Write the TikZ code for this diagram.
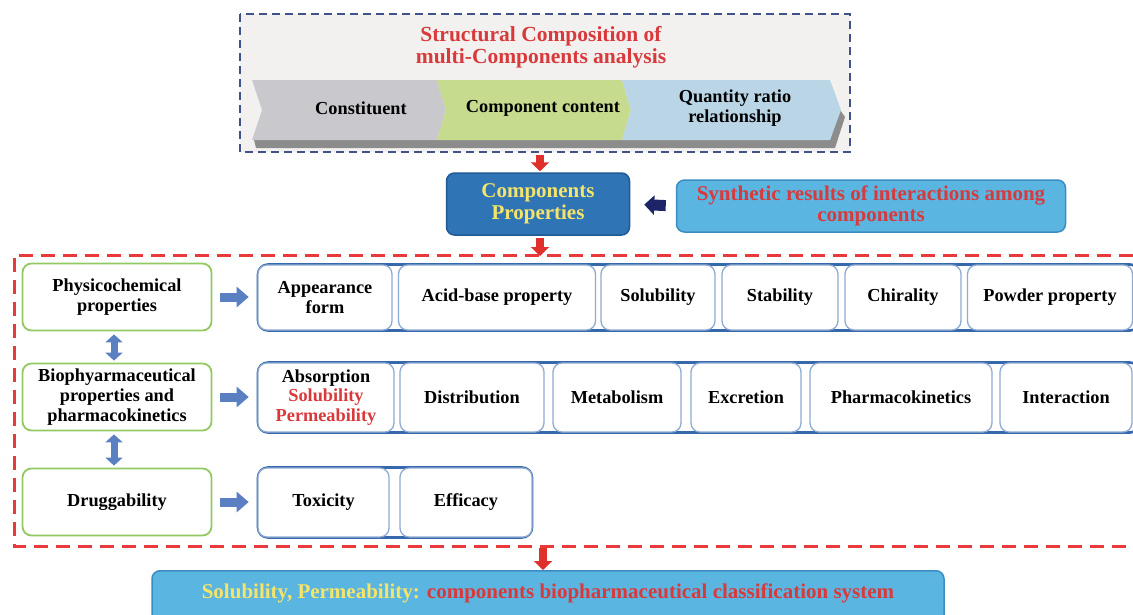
\documentclass[tikz,border=0pt]{standalone}
\usepackage{fontspec}
\setmainfont{Liberation Serif}
\usepackage{tikz}
\usetikzlibrary{arrows.meta,positioning}

\definecolor{titlered}{HTML}{D83A3C}
\definecolor{dashnavy}{HTML}{3F5289}
\definecolor{panelgray}{HTML}{F3F1EF}
\definecolor{chevgray}{HTML}{C9C9CD}
\definecolor{chevgreen}{HTML}{C6DB8E}
\definecolor{chevblue}{HTML}{B9D5E6}
\definecolor{shadowgray}{HTML}{8C8C8C}
\definecolor{propblue}{HTML}{2F74B5}
\definecolor{propedge}{HTML}{1F5A96}
\definecolor{textyellow}{HTML}{F4E46A}
\definecolor{skyfill}{HTML}{5BB5E1}
\definecolor{skyedge}{HTML}{3B8DC1}
\definecolor{navyblue}{HTML}{1D2568}
\definecolor{arrowred}{HTML}{E0302B}
\definecolor{dashred}{HTML}{E8393B}
\definecolor{boxgreen}{HTML}{93C963}
\definecolor{steelblue}{HTML}{5B80C1}
\definecolor{baredge}{HTML}{3669AB}
\definecolor{celledge}{HTML}{8EA9D2}

\tikzset{
  itemfont/.style={font=\bfseries\fontsize{18.3}{19.6}\selectfont},
  headfont/.style={font=\bfseries\fontsize{21}{21.5}\selectfont},
  leftbox/.style={draw=boxgreen, line width=1.8pt, rounded corners=9pt, fill=white,
    minimum width=189pt, minimum height=67pt, align=center, itemfont},
  rowbar/.style={draw=baredge, line width=2.6pt, rounded corners=10pt, fill=white},
  cell/.style={draw=celledge, line width=1.3pt, rounded corners=9pt, fill=white,
    minimum height=65pt, align=center, itemfont},
  redarrow/.style={arrowred, line width=8pt, -{Triangle[width=18pt,length=9pt]}},
  steelarrow/.style={steelblue, line width=9pt, -{Triangle[width=20pt,length=12pt]}},
  steeldbl/.style={steelblue, line width=7pt, {Triangle[width=17pt,length=8pt]}-{Triangle[width=17pt,length=8pt]}}
}

\begin{document}
\begin{tikzpicture}[x=1pt,y=-1pt]
\useasboundingbox (0,0) rectangle (1133,614);

% Structural composition panel
\draw[dashnavy, fill=panelgray, line width=2pt, dash pattern=on 8pt off 5pt] (240,14) rectangle (850,152);
\node[text=titlered, align=center, font=\bfseries\fontsize{21.5}{22.5}\selectfont] (title) at (541,47)
  {Structural Composition of\\multi-Components analysis};

% Chevron strip
\fill[shadowgray] (254,140) -- (830,140) -- (840,110) -- (845,117) -- (835,148) -- (256,148) -- cycle;
\fill[chevgray] (252,80) -- (437,80) -- (446,110) -- (437,140) -- (252,140) -- (262,110) -- cycle;
\fill[chevgreen] (437,80) -- (622,80) -- (631,110) -- (622,140) -- (437,140) -- (446,110) -- cycle;
\fill[chevblue] (622,80) -- (830,80) -- (841,110) -- (830,140) -- (622,140) -- (631,110) -- cycle;
\node[itemfont] (constit) at (361,108) {Constituent};
\node[itemfont] (content) at (543,108) {Component content};
\node[itemfont, align=center] (ratio) at (735,108) {Quantity ratio\\relationship};
\coordinate (panelS) at (540,152);

% Components properties
\node[draw=propedge, fill=propblue, line width=1.5pt, rounded corners=8pt, minimum width=183pt,
  minimum height=62pt, align=center, text=textyellow, headfont]
  (props) at (538,204) {Components\\Properties};
\node[draw=skyedge, fill=skyfill, line width=1.5pt, rounded corners=8pt, minimum width=389pt,
  minimum height=52pt, align=center, text=titlered, headfont]
  (synth) at (871,206) {Synthetic results of interactions among\\components};
\draw[navyblue, line width=11pt, -{Triangle[width=19pt,length=10pt]}, shorten >=14pt, shorten <=10pt]
  (synth.west) -- (props.east);
\draw[redarrow, shorten <=3pt, shorten >=1pt] (panelS) -- (panelS |- props.north);

% Properties frame
\coordinate (frameN) at (540,256);
\coordinate (frameS) at (543,546);
\draw[dashred, line width=3pt, dash pattern=on 14pt off 8pt] (1133,255) -- (14,255) -- (14,546) -- (1133,546);
\draw[redarrow, shorten <=2pt] ([xshift=2pt]props.south) -- (frameN);

% Left categories
\node[leftbox] (phys) at (117,297) {Physicochemical\\properties};
\node[leftbox] (bio) at (117,397) {Biophyarmaceutical\\properties and\\pharmacokinetics};
\node[leftbox] (drug) at (117,502) {Druggability};
\draw[steeldbl, shorten <=3pt, shorten >=2pt] ([xshift=-3pt]phys.south) -- ([xshift=-3pt]bio.north);
\draw[steeldbl, shorten <=3pt, shorten >=2pt] ([xshift=-3pt]bio.south) -- ([xshift=-3pt]drug.north);

% Row 1
\node[rowbar, minimum width=882pt, minimum height=66pt] (bar1) at (699,297.5) {};
\node[cell, minimum width=134pt] (appear) at (325,297.5) {Appearance\\form};
\node[cell, minimum width=197pt] (acid) at (497,297.5) {Acid-base property};
\node[cell, minimum width=114pt] (solub) at (658,297.5) {Solubility};
\node[cell, minimum width=116pt] (stab) at (780,297.5) {Stability};
\node[cell, minimum width=116pt] (chiral) at (903,297.5) {Chirality};
\node[cell, minimum width=165pt] (powder) at (1050,297.5) {Powder property};
\draw[steelarrow, shorten <=8pt, shorten >=8pt] (phys.east) -- (bar1.west |- phys.east);

% Row 2
\node[rowbar, minimum width=882pt, minimum height=70pt] (bar2) at (699,397.5) {};
\node[cell, minimum width=136pt, minimum height=69pt] (absorb) at (326,397.5)
  {Absorption\\{\color{titlered}Solubility}\\{\color{titlered}Permeability}};
\node[cell, minimum width=144pt, minimum height=69pt] (distrib) at (472,397.5) {Distribution};
\node[cell, minimum width=128pt, minimum height=69pt] (metab) at (617,397.5) {Metabolism};
\node[cell, minimum width=110pt, minimum height=69pt] (excret) at (746,397.5) {Excretion};
\node[cell, minimum width=182pt, minimum height=69pt] (pk) at (901,397.5) {Pharmacokinetics};
\node[cell, minimum width=132pt, minimum height=69pt] (interact) at (1066,397.5) {Interaction};
\draw[steelarrow, shorten <=8pt, shorten >=8pt] (bio.east) -- (bar2.west |- bio.east);

% Row 3
\node[rowbar, minimum width=274pt, minimum height=70pt] (bar3) at (395,502.5) {};
\node[cell, minimum width=131pt, minimum height=69pt] (toxic) at (323.5,502.5) {Toxicity};
\node[cell, minimum width=132pt, minimum height=69pt] (effic) at (466,502.5) {Efficacy};
\draw[steelarrow, shorten <=8pt, shorten >=8pt] (drug.east) -- (bar3.west |- drug.east);

% Classification system
\node[draw=skyedge, fill=skyfill, line width=1.5pt, rounded corners=8pt, minimum width=792pt,
  minimum height=52pt, headfont, anchor=north]
  (bcs) at (548,570) {\raisebox{0pt}[0pt][12pt]{}\color{textyellow}Solubility, Permeability: \color{titlered}components biopharmaceutical classification system};
\draw[redarrow, shorten <=2pt] (frameS) -- (frameS |- bcs.north);

\end{tikzpicture}
\end{document}
